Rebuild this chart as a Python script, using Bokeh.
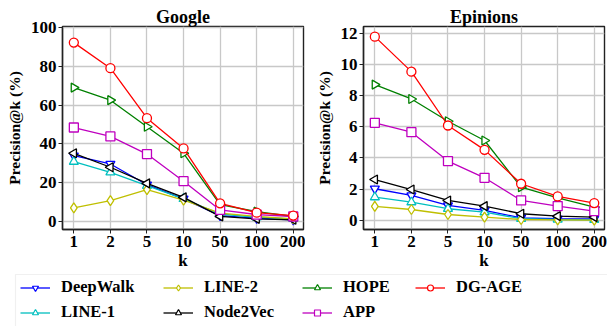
import numpy as np
from bokeh.plotting import figure
from bokeh.layouts import column, row
from bokeh.models import Range1d, FixedTicker, Legend, LegendItem, BoxAnnotation
from bokeh.embed import file_html
from bokeh.resources import INLINE

ks = ["1", "2", "5", "10", "50", "100", "200"]
methods = ["DeepWalk", "LINE-1", "LINE-2", "Node2Vec", "HOPE", "APP", "DG-AGE"]

google_deepwalk = [34.0, 29.7, 19.0, 11.7, 3.1, 1.7, 0.9]
google_line1 = [30.9, 25.4, 18.5, 11.7, 3.9, 2.2, 1.4]
google_line2 = [7.0, 10.8, 16.5, 11.1, 4.3, 2.6, 1.4]
google_node2vec = [35.2, 28.0, 19.7, 12.5, 2.7, 1.4, 0.9]
google_hope = [69.1, 62.6, 48.9, 35.2, 8.7, 5.1, 2.6]
google_app = [48.5, 43.9, 34.8, 20.8, 6.0, 3.6, 2.6]
google_dgage = [92.3, 79.1, 53.3, 37.7, 9.4, 4.6, 3.1]

epinions_deepwalk = [2.03, 1.60, 0.96, 0.64, 0.17, 0.11, 0.10]
epinions_line1 = [1.49, 1.17, 0.75, 0.53, 0.11, 0.06, 0.04]
epinions_line2 = [0.90, 0.70, 0.38, 0.21, 0.06, 0.04, 0.02]
epinions_node2vec = [2.62, 1.98, 1.28, 0.92, 0.43, 0.28, 0.21]
epinions_hope = [8.70, 7.78, 6.35, 5.12, 2.13, 1.45, 0.85]
epinions_app = [6.25, 5.65, 3.80, 2.73, 1.28, 0.92, 0.60]
epinions_dgage = [11.77, 9.53, 6.08, 4.52, 2.35, 1.54, 1.11]

google = [google_deepwalk, google_line1, google_line2, google_node2vec,
          google_hope, google_app, google_dgage]
epinions = [epinions_deepwalk, epinions_line1, epinions_line2, epinions_node2vec,
            epinions_hope, epinions_app, epinions_dgage]

colors = ["#0000ff", "#00bfbf", "#bfbf00", "#000000", "#008000", "#bf00bf", "#ff0000"]
markers = ["inverted_triangle", "triangle", "diamond", "triangle", "triangle", "square", "circle"]
angles = [0, 0, 0, np.pi / 2, -np.pi / 2, 0, 0]
sizes = [9, 9, 10, 9, 9, 9, 9]

FONT = "Liberation Serif"
xs = list(range(len(ks)))


def make_fig(title, data, yticks, yr, width, mbl, mbr):
    p = figure(width=width, height=272, output_backend="svg", toolbar_location=None,
               x_range=Range1d(-0.31, 6.28), y_range=Range1d(*yr),
               min_border_left=mbl, min_border_right=mbr,
               min_border_top=26, min_border_bottom=43)
    p.title.text = title
    p.title.align = "center"
    p.title.text_font = FONT
    p.title.text_font_size = "18px"
    p.title.text_font_style = "bold"
    p.title.text_color = "black"
    p.title.standoff = 0
    p.title.offset = 0
    for vals, c, m, a, s in zip(data, colors, markers, angles, sizes):
        p.line(xs, vals, line_color=c, line_width=1.3)
        p.scatter(xs, vals, marker=m, angle=a, size=s, line_color=c,
                  fill_color="white", line_width=1.3)
    p.xaxis.ticker = FixedTicker(ticks=xs)
    p.xaxis.major_label_overrides = {i: k for i, k in enumerate(ks)}
    p.yaxis.ticker = FixedTicker(ticks=yticks)
    p.xgrid.ticker = FixedTicker(ticks=xs)
    p.ygrid.ticker = FixedTicker(ticks=yticks)
    for ax in [p.xaxis[0], p.yaxis[0]]:
        ax.axis_line_color = "#222222"
        ax.axis_line_width = 1.4
        ax.major_tick_line_color = "#222222"
        ax.major_tick_out = 4
        ax.major_tick_in = 0
        ax.minor_tick_out = 0
        ax.minor_tick_in = 0
        ax.major_label_text_font = FONT
        ax.major_label_text_font_size = "17px"
        ax.major_label_text_font_style = "bold"
        ax.major_label_text_color = "black"
        ax.axis_label_text_font = FONT
        ax.axis_label_text_font_style = "bold"
        ax.axis_label_text_color = "black"
        ax.major_label_standoff = 2
        ax.axis_label_standoff = 1
    p.xaxis.axis_label = "k"
    p.xaxis.axis_label_text_font_size = "17px"
    p.yaxis.axis_label = "Precision@k (%)"
    p.yaxis.axis_label_text_font_size = "15.5px"
    p.yaxis.axis_label_standoff = 5
    for g in [p.xgrid[0], p.ygrid[0]]:
        g.grid_line_color = "#c8c8c8"
        g.grid_line_width = 1.3
    p.outline_line_color = "#222222"
    p.outline_line_width = 1.4
    p.outline_line_alpha = 1
    return p


p1 = make_fig("Google", google, [0, 20, 40, 60, 80, 100], (-4.1, 100.6), 305, 62, 2)
p2 = make_fig("Epinions", epinions, [0, 2, 4, 6, 8, 10, 12], (-0.58, 12.42), 302, 58, 3)

# legend panel
pl = figure(width=607, height=54, output_backend="svg", toolbar_location=None,
            x_range=Range1d(0, 607), y_range=Range1d(0, 54),
            min_border=0, min_border_left=0, min_border_right=0,
            min_border_top=0, min_border_bottom=0)
pl.axis.visible = False
pl.grid.visible = False
pl.outline_line_color = None
pl.add_layout(BoxAnnotation(left=15, right=700, bottom=-20, top=52,
                            fill_color="white", fill_alpha=1,
                            line_color="#cccccc", line_width=1.2))
items = []
for name, c, m, a, s in zip(methods, colors, markers, angles, sizes):
    r1 = pl.line([np.nan], [np.nan], line_color=c, line_width=1.3)
    r2 = pl.scatter([np.nan], [np.nan], marker=m, angle=a, size=s - 2, line_color=c,
                    fill_color="white", line_width=1.2)
    items.append(LegendItem(label=name, renderers=[r1, r2]))

cols = [[items[0], items[1]], [items[2], items[3]], [items[4], items[5]], [items[6]]]
xpos = [20, 163, 302, 415]
for its, x in zip(cols, xpos):
    h = 20 * len(its) + 5 * (len(its) - 1)
    lg = Legend(items=its, location=(x, 54 - 5 - h), orientation="vertical",
                padding=0, margin=0, spacing=5, glyph_width=30, glyph_height=15,
                label_height=20, label_standoff=11,
                label_text_font=FONT, label_text_font_size="16.5px",
                label_text_font_style="bold", label_text_color="black",
                border_line_color=None, background_fill_alpha=0)
    pl.add_layout(lg, "center")

layout = column(row(p1, p2, spacing=0), pl, spacing=0)
open("out.html", "w").write(file_html(layout, INLINE))
